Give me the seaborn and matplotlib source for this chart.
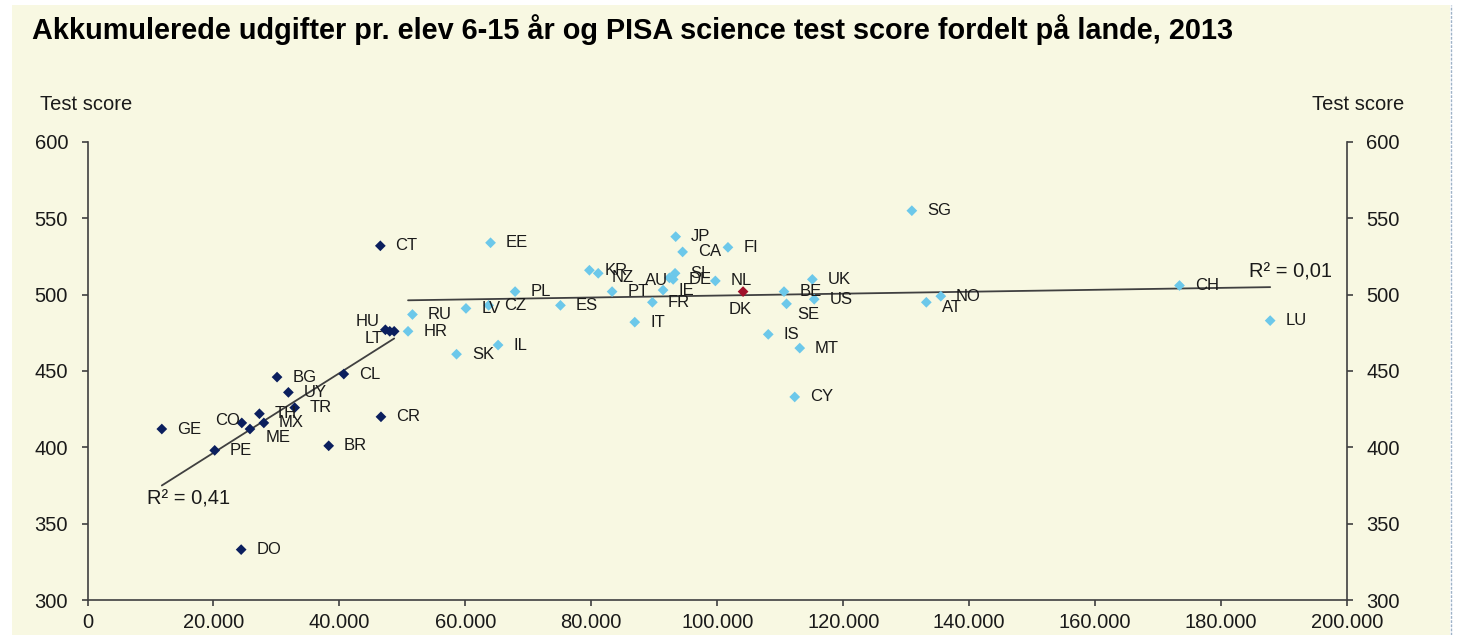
import numpy as np
import pandas as pd
import matplotlib
matplotlib.use("Agg")
import matplotlib.pyplot as plt
import seaborn as sns
from matplotlib.patches import Rectangle
from matplotlib.ticker import FuncFormatter, MultipleLocator

# Low spending countries (dark markers)
low_countries = ["GE", "PE", "CO", "ME", "TH", "MX", "BG", "UY", "TR", "BR",
                 "CL", "CR", "CT", "HU", "", "LT", "DO"]
low_spend = [11800, 20200, 24500, 25800, 27300, 28000, 30100, 31900, 32900, 38300,
             40700, 46600, 46500, 47300, 48000, 48700, 24400]
low_score = [412, 398, 416, 412, 422, 416, 446, 436, 426, 401,
             448, 420, 532, 477, 476, 476, 333]

# High spending countries (light markers)
high_countries = ["HR", "RU", "SK", "LV", "CZ", "EE", "IL", "PL", "ES", "KR",
                  "NZ", "PT", "IT", "FR", "IE", "AU", "DE", "SL", "JP", "CA",
                  "NL", "FI", "IS", "BE", "SE", "CY", "MT", "UK", "US", "SG",
                  "AT", "NO", "CH", "LU"]
high_spend = [50900, 51600, 58600, 60100, 63700, 64000, 65200, 67900, 75100, 79700,
              81100, 83300, 86900, 89700, 91400, 92400, 93000, 93300, 93400, 94500,
              99700, 101700, 108100, 110600, 111000, 112300, 113100, 115100, 115400, 130900,
              133200, 135500, 173400, 187800]
high_score = [476, 487, 461, 491, 493, 534, 467, 502, 493, 516,
              514, 502, 482, 495, 503, 511, 510, 514, 538, 528,
              509, 531, 474, 502, 494, 433, 465, 510, 497, 555,
              495, 499, 506, 483]

# Denmark highlighted
dk_country = ["DK"]
dk_spend = [104100]
dk_score = [502]

# label placement tweaks (offset in points, horizontal alignment)
label_style = {
    "CO": (-1, 2, "right"), "ME": (11, -6, "left"), "HU": (-4, 6, "right"),
    "LT": (-8, -5, "right"), "DK": (-2, -13, "center"), "SE": (8, -8, "left"),
    "AT": (11, -4, "left"), "NZ": (10, -3, "left"), "AU": (-1, -2, "right"),
}

df_low = pd.DataFrame({"country": low_countries, "spend": low_spend, "score": low_score, "grp": "low"})
df_high = pd.DataFrame({"country": high_countries, "spend": high_spend, "score": high_score, "grp": "high"})
df_dk = pd.DataFrame({"country": dk_country, "spend": dk_spend, "score": dk_score, "grp": "dk"})
df = pd.concat([df_low, df_high, df_dk], ignore_index=True)
df_fit_high = pd.concat([df_high, df_dk], ignore_index=True)

sns.set_style("ticks")
plt.rcParams["font.family"] = ["Liberation Sans", "DejaVu Sans"]

cream = "#F8F8E2"
axis_col = "#404040"
text_col = "#1a1a1a"

fig = plt.figure(figsize=(14.6, 6.35), dpi=100)
fig.patch.set_facecolor("white")
fig.patches.append(Rectangle((12 / 1460, 0), 1438 / 1460, 630 / 635, transform=fig.transFigure,
                             facecolor=cream, edgecolor="none", zorder=-10))
fig.add_artist(plt.Line2D([1451 / 1460, 1451 / 1460], [0, 630 / 635], transform=fig.transFigure,
                          color="#9fb3c8", lw=1, ls=(0, (2, 1))))

ax = fig.add_axes([87.5 / 1460, 35 / 635, 1259.5 / 1460, 458 / 635])
ax.patch.set_alpha(0)

# trend lines
sns.regplot(data=df_low, x="spend", y="score", scatter=False, ci=None, truncate=True,
            color=axis_col, line_kws={"lw": 1.3, "zorder": 2}, ax=ax)
sns.regplot(data=df_fit_high, x="spend", y="score", scatter=False, ci=None, truncate=True,
            color=axis_col, line_kws={"lw": 1.3, "zorder": 2}, ax=ax)

palette = {"low": "#0B1F5E", "high": "#6CC8EA", "dk": "#A0102A"}
sns.scatterplot(data=df, x="spend", y="score", hue="grp", palette=palette, marker="D",
                s=30, linewidth=0, legend=False, zorder=3, ax=ax)

for _, row in df.iterrows():
    if not row["country"]:
        continue
    dx, dy, ha = label_style.get(row["country"], (11, 0, "left"))
    ax.annotate(row["country"], (row["spend"], row["score"]), xytext=(dx, dy),
                textcoords="offset points", ha=ha, va="center", fontsize=12,
                color=text_col, zorder=4)

ax.text(9400, 366, "R² = 0,41", fontsize=14.5, color=text_col, va="center", ha="left")
ax.text(184500, 515, "R² = 0,01", fontsize=14.5, color=text_col, va="center", ha="left")

ax.set_xlim(0, 200000)
ax.set_ylim(300, 600)
ax.xaxis.set_major_locator(MultipleLocator(20000))
ax.yaxis.set_major_locator(MultipleLocator(50))
ax.xaxis.set_major_formatter(FuncFormatter(lambda v, p: f"{int(v):,}".replace(",", ".")))
ax.set_xlabel("")
ax.set_ylabel("")

for side in ["left", "right", "bottom"]:
    ax.spines[side].set_visible(True)
    ax.spines[side].set_color(axis_col)
    ax.spines[side].set_linewidth(1.2)
ax.spines["top"].set_visible(False)
ax.tick_params(axis="both", direction="out", length=4, width=1.2, color=axis_col,
               labelsize=14.5, labelcolor=text_col)
ax.tick_params(axis="y", right=True, labelright=True, pad=10)
ax.tick_params(axis="x", pad=5)

fig.text(40 / 1460, 1 - 104 / 635, "Test score", fontsize=14.5, color=text_col, va="center", ha="left")
fig.text(1404 / 1460, 1 - 104 / 635, "Test score", fontsize=14.5, color=text_col, va="center", ha="right")
fig.text(32 / 1460, 1 - 30 / 635,
         "Akkumulerede udgifter pr. elev 6-15 år og PISA science test score fordelt på lande, 2013",
         fontsize=20.8, fontweight="bold", color="black", va="center", ha="left")

fig.savefig("out.png", dpi=100, facecolor=fig.get_facecolor())
